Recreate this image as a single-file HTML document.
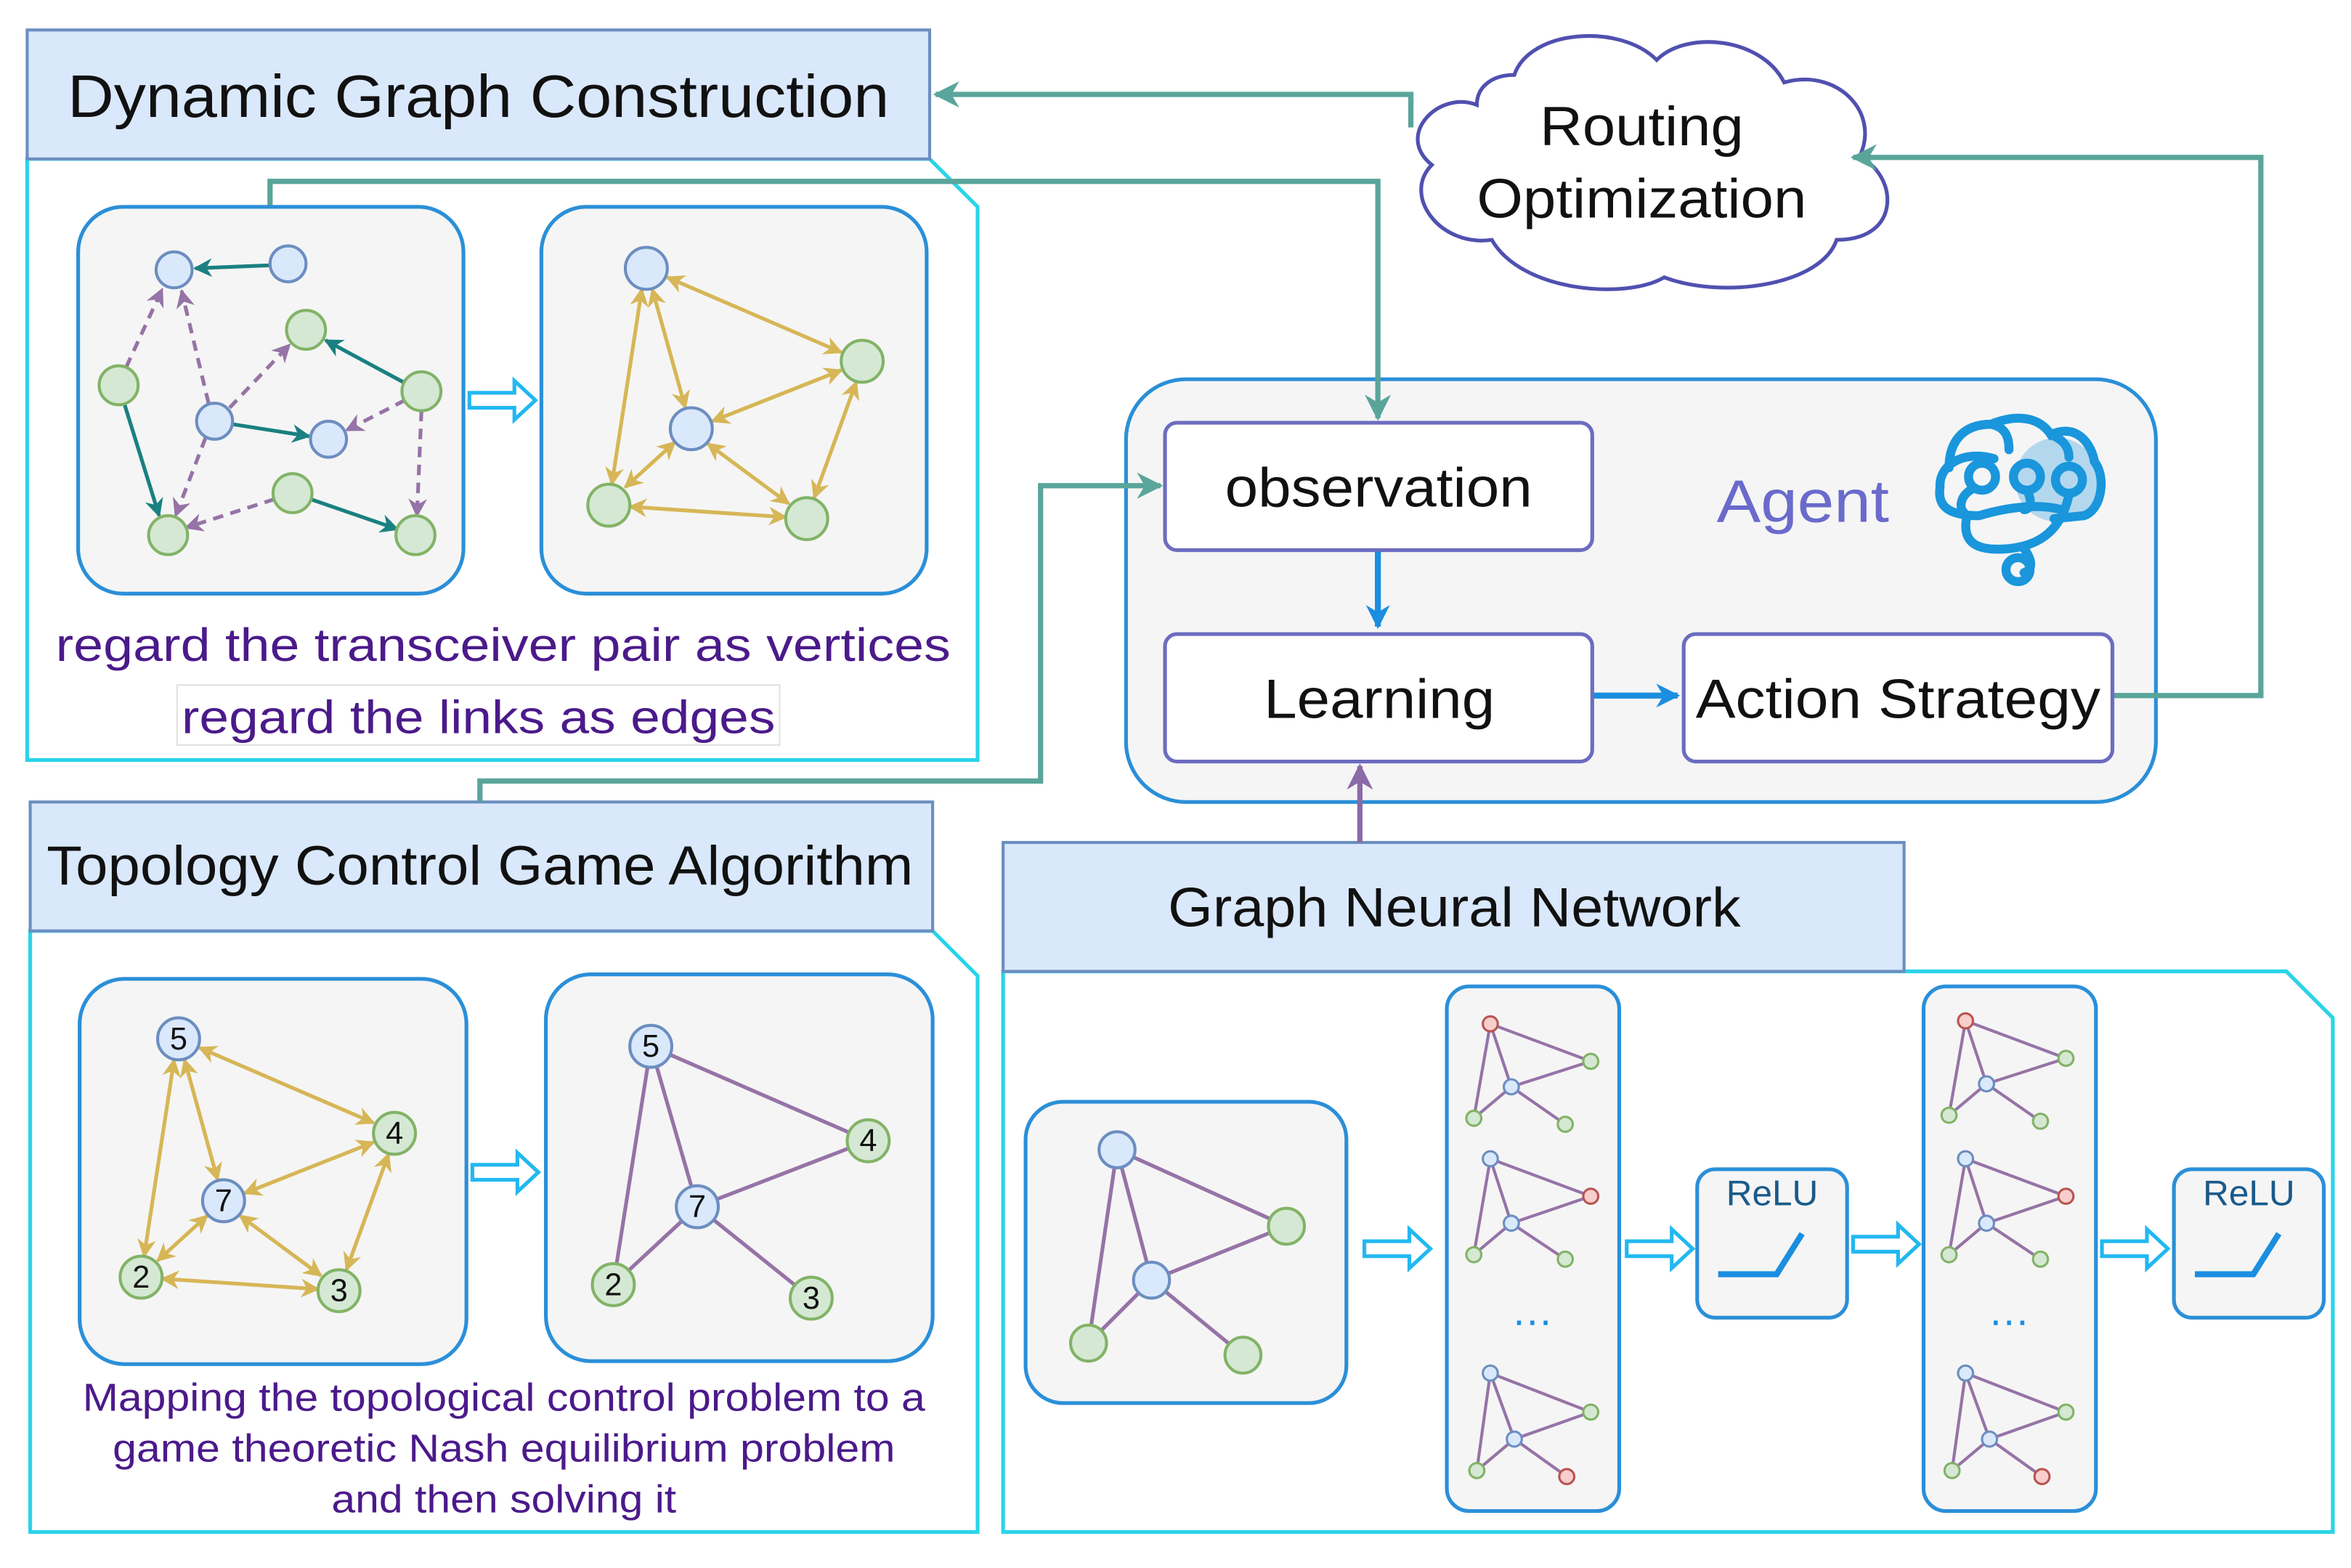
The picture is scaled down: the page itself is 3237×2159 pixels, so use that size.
<!DOCTYPE html>
<html><head><meta charset="utf-8"><style>html,body{margin:0;padding:0;background:#fff}svg{display:block}</style></head><body>
<svg xmlns="http://www.w3.org/2000/svg" width="3237" height="2159" viewBox="0 0 1568 1046" font-family="Liberation Sans, sans-serif">
<defs>
<marker id="at" viewBox="0 0 10 10" refX="9" refY="5" markerWidth="5" markerHeight="5" orient="auto-start-reverse"><path d="M0,0L10,5L0,10L3,5z" fill="#5aa59a"/></marker>
<marker id="ab" viewBox="0 0 10 10" refX="9" refY="5" markerWidth="4" markerHeight="4" orient="auto-start-reverse"><path d="M0,0L10,5L0,10L3,5z" fill="#1a8ee0"/></marker>
<marker id="ap" viewBox="0 0 10 10" refX="9" refY="5" markerWidth="5" markerHeight="5" orient="auto-start-reverse"><path d="M0,0L10,5L0,10L3,5z" fill="#8a6aa8"/></marker>
<marker id="ag" viewBox="0 0 10 10" refX="9" refY="5" markerWidth="5" markerHeight="5" orient="auto-start-reverse"><path d="M0,0L10,5L0,10L3,5z" fill="#d6b656"/></marker>
<marker id="ae" viewBox="0 0 10 10" refX="9" refY="5" markerWidth="5" markerHeight="5" orient="auto-start-reverse"><path d="M0,0L10,5L0,10L3,5z" fill="#1a8080"/></marker>
<marker id="ad" viewBox="0 0 10 10" refX="9" refY="5" markerWidth="5" markerHeight="5" orient="auto-start-reverse"><path d="M0,0L10,5L0,10L3,5z" fill="#9673a6"/></marker>
<g id="ho"><path d="M0,-5H30V-13L44,0L30,13V5H0Z" fill="#fff" stroke="#22b8f0" stroke-width="2.5"/></g>
</defs>

<path d="M18,106H620L652,138V507H18Z" fill="none" stroke="#2ad4e8" stroke-width="2.5"/>
<path d="M20,621H622L652,651V1022H20Z" fill="none" stroke="#2ad4e8" stroke-width="2.5"/>
<path d="M669,648H1525L1556,679V1022H669Z" fill="none" stroke="#2ad4e8" stroke-width="2.5"/>

<rect x="18" y="20" width="602" height="86" fill="#dae8fc" stroke="#6c8ebf" stroke-width="2"/>
<text x="45" y="78" font-size="40" textLength="548" lengthAdjust="spacingAndGlyphs" fill="#111">Dynamic Graph Construction</text>
<rect x="20" y="535" width="602" height="86" fill="#dae8fc" stroke="#6c8ebf" stroke-width="2"/>
<text x="31" y="590" font-size="37" textLength="578" lengthAdjust="spacingAndGlyphs" fill="#111">Topology Control Game Algorithm</text>
<rect x="669" y="562" width="601" height="86" fill="#dae8fc" stroke="#6c8ebf" stroke-width="2"/>
<text x="779" y="618" font-size="37" textLength="382" lengthAdjust="spacingAndGlyphs" fill="#111">Graph Neural Network</text>

<!-- cloud -->
<path d="M985,70 C960,60 930,90 955,110 C935,130 960,165 995,160 C1015,195 1085,200 1110,185 C1150,200 1215,190 1225,160 C1270,160 1265,115 1240,105 C1255,75 1225,45 1190,55 C1175,25 1125,20 1105,40 C1080,15 1020,20 1010,50 C995,50 985,58 985,70Z" fill="#fff" stroke="#5050b0" stroke-width="2.5"/>
<text x="1027" y="97" font-size="37" textLength="136" lengthAdjust="spacingAndGlyphs" fill="#111">Routing</text>
<text x="985" y="145" font-size="37" textLength="220" lengthAdjust="spacingAndGlyphs" fill="#111">Optimization</text>

<!-- agent -->
<rect x="751" y="253" width="687" height="282" rx="40" fill="#f5f5f5" stroke="#2b8fd8" stroke-width="2.5"/>

<!-- connectors -->
<g fill="none" stroke="#5aa59a" stroke-width="3.5">
<path d="M941,85V63H624" marker-end="url(#at)"/>
<path d="M1409,464H1508V105H1236" marker-end="url(#at)"/>
<path d="M180,138V121H919V279" marker-end="url(#at)"/>
<path d="M320,535V521H694V324H774" marker-end="url(#at)"/>
</g>

<rect x="777" y="282" width="285" height="85" rx="8" fill="#fff" stroke="#6c6cc0" stroke-width="2.5"/>
<text x="817" y="338" font-size="37" textLength="205" lengthAdjust="spacingAndGlyphs" fill="#111">observation</text>
<rect x="777" y="423" width="285" height="85" rx="8" fill="#fff" stroke="#6c6cc0" stroke-width="2.5"/>
<text x="843" y="479" font-size="37" textLength="154" lengthAdjust="spacingAndGlyphs" fill="#111">Learning</text>
<rect x="1123" y="423" width="286" height="85" rx="8" fill="#fff" stroke="#6c6cc0" stroke-width="2.5"/>
<text x="1131" y="479" font-size="37" textLength="270" lengthAdjust="spacingAndGlyphs" fill="#111">Action Strategy</text>
<text x="1145" y="348" font-size="40" textLength="115" lengthAdjust="spacingAndGlyphs" fill="#6a6acc">Agent</text>
<path d="M919,368V418" stroke="#1a8ee0" stroke-width="4" marker-end="url(#ab)"/>
<path d="M1063,464H1119" stroke="#1a8ee0" stroke-width="4" marker-end="url(#ab)"/>
<path d="M907,562V511" stroke="#8a6aa8" stroke-width="3.5" marker-end="url(#ap)"/>

<!-- brain -->
<g fill="none" stroke="#1a96dc" stroke-width="6" stroke-linecap="round">
<circle cx="1372" cy="320" r="28" fill="#b3d8ee" stroke="none"/>
<path d="M1330,306 C1310,300 1293,310 1294,325 C1292,338 1300,344 1320,344 C1340,338 1360,336 1375,340 M1300,312 C1300,296 1308,283 1328,283 C1345,276 1360,278 1368,290 C1385,282 1395,296 1397,308 C1405,318 1402,340 1390,344 L1370,346"/>
<path d="M1328,283 C1338,285 1340,292 1340,300 M1368,290 C1378,294 1380,300 1380,305"/>
<circle cx="1322" cy="318" r="9"/><circle cx="1352" cy="318" r="9"/><circle cx="1380" cy="320" r="9"/>
<path d="M1316,326 C1308,330 1306,338 1310,342 M1352,327 C1356,335 1354,340 1350,340"/>
<path d="M1312,344 C1308,362 1318,368 1340,366 C1360,364 1375,354 1380,330"/>
<path d="M1350,366 C1356,374 1356,380 1350,382"/><circle cx="1346" cy="380" r="8"/>
</g>

<g fill="#f5f5f5" stroke="#2b8fd8" stroke-width="2.5">
<rect x="52" y="138" width="257" height="258" rx="30"/>
<rect x="361" y="138" width="257" height="258" rx="30"/>
<rect x="53" y="653" width="258" height="257" rx="30"/>
<rect x="364" y="650" width="258" height="258" rx="30"/>
<rect x="684" y="735" width="214" height="201" rx="25"/>
<rect x="965" y="658" width="115" height="350" rx="15"/>
<rect x="1283" y="658" width="115" height="350" rx="15"/>
<rect x="1132" y="780" width="100" height="99" rx="12"/>
<rect x="1450" y="780" width="100" height="99" rx="12"/>
</g>
<text x="1182" y="804" font-size="24" text-anchor="middle" fill="#1a5a8a">ReLU</text>
<text x="1500" y="804" font-size="24" text-anchor="middle" fill="#1a5a8a">ReLU</text>
<path d="M1146,850H1185L1202,823" fill="none" stroke="#1a8ee0" stroke-width="4"/>
<path d="M1464,850H1503L1520,823" fill="none" stroke="#1a8ee0" stroke-width="4"/>

<use href="#ho" x="313" y="267"/><use href="#ho" x="315" y="782"/>
<use href="#ho" x="910" y="833"/><use href="#ho" x="1085" y="833"/>
<use href="#ho" x="1236" y="830"/><use href="#ho" x="1402" y="833"/>

<g stroke-width="2.5" fill="none">
<g stroke="#1a8080">
<path d="M180,177L130,179" marker-end="url(#ae)"/>
<path d="M269,255L217,227" marker-end="url(#ae)"/>
<path d="M155,283L206,291" marker-end="url(#ae)"/>
<path d="M83,270L106,344" marker-end="url(#ae)"/>
<path d="M207,333L265,353" marker-end="url(#ae)"/>
</g>
<g stroke="#9673a6" stroke-dasharray="7,5">
<path d="M84,245L108,193" marker-end="url(#ad)"/>
<path d="M139,269L121,194" marker-end="url(#ad)"/>
<path d="M153,272L193,230" marker-end="url(#ad)"/>
<path d="M270,267L231,287" marker-end="url(#ad)"/>
<path d="M281,274L278,344" marker-end="url(#ad)"/>
<path d="M137,292L117,344" marker-end="url(#ad)"/>
<path d="M183,333L124,352" marker-end="url(#ad)"/>
</g>
</g>
<g stroke-width="2"><g fill="#dae8fc" stroke="#6c8ebf">
<circle cx="116" cy="180" r="12"/><circle cx="192" cy="176" r="12"/><circle cx="143" cy="281" r="12"/><circle cx="219" cy="293" r="12"/></g>
<g fill="#d5e8d4" stroke="#82b366"><circle cx="79" cy="257" r="13"/><circle cx="204" cy="220" r="13"/><circle cx="281" cy="261" r="13"/><circle cx="112" cy="357" r="13"/><circle cx="195" cy="329" r="13"/><circle cx="277" cy="357" r="13"/></g></g>

<g stroke="#d6b656" stroke-width="2.5" marker-start="url(#ag)" marker-end="url(#ag)">
<line x1="445" y1="185" x2="561" y2="235"/><line x1="428" y1="193" x2="408" y2="323"/>
<line x1="435" y1="193" x2="457" y2="272"/><line x1="475" y1="281" x2="561" y2="247"/>
<line x1="450" y1="295" x2="417" y2="325"/><line x1="472" y1="296" x2="526" y2="336"/>
<line x1="420" y1="338" x2="524" y2="345"/><line x1="571" y1="255" x2="543" y2="332"/>
</g>
<g stroke-width="2"><g fill="#dae8fc" stroke="#6c8ebf"><circle cx="431" cy="179" r="14"/><circle cx="461" cy="286" r="14"/></g>
<g fill="#d5e8d4" stroke="#82b366"><circle cx="575" cy="241" r="14"/><circle cx="406" cy="337" r="14"/><circle cx="538" cy="346" r="14"/></g></g>

<g stroke="#d6b656" stroke-width="2.5" marker-start="url(#ag)" marker-end="url(#ag)">
<line x1="133" y1="699" x2="249" y2="749"/><line x1="123" y1="707" x2="145" y2="787"/>
<line x1="116" y1="707" x2="96" y2="838"/><line x1="163" y1="796" x2="249" y2="762"/>
<line x1="138" y1="811" x2="105" y2="841"/><line x1="160" y1="811" x2="214" y2="851"/>
<line x1="108" y1="853" x2="212" y2="860"/><line x1="259" y1="770" x2="231" y2="847"/>
</g>
<g stroke-width="2" font-size="21" text-anchor="middle">
<circle cx="119" cy="693" r="14" fill="#dae8fc" stroke="#6c8ebf"/><circle cx="149" cy="801" r="14" fill="#dae8fc" stroke="#6c8ebf"/>
<circle cx="263" cy="756" r="14" fill="#d5e8d4" stroke="#82b366"/><circle cx="94" cy="852" r="14" fill="#d5e8d4" stroke="#82b366"/><circle cx="226" cy="861" r="14" fill="#d5e8d4" stroke="#82b366"/>
<g stroke="none" fill="#111"><text x="119" y="700">5</text><text x="149" y="808">7</text><text x="263" y="763">4</text><text x="94" y="859">2</text><text x="226" y="868">3</text></g></g>

<g stroke="#9673a6" stroke-width="2.5">
<line x1="434" y1="698" x2="579" y2="761"/><line x1="434" y1="698" x2="465" y2="805"/><line x1="434" y1="698" x2="409" y2="857"/>
<line x1="465" y1="805" x2="579" y2="761"/><line x1="465" y1="805" x2="409" y2="857"/><line x1="465" y1="805" x2="541" y2="866"/></g>
<g stroke-width="2" font-size="21" text-anchor="middle">
<circle cx="434" cy="698" r="14" fill="#dae8fc" stroke="#6c8ebf"/><circle cx="465" cy="805" r="14" fill="#dae8fc" stroke="#6c8ebf"/>
<circle cx="579" cy="761" r="14" fill="#d5e8d4" stroke="#82b366"/><circle cx="409" cy="857" r="14" fill="#d5e8d4" stroke="#82b366"/><circle cx="541" cy="866" r="14" fill="#d5e8d4" stroke="#82b366"/>
<g stroke="none" fill="#111"><text x="434" y="705">5</text><text x="465" y="812">7</text><text x="579" y="768">4</text><text x="409" y="864">2</text><text x="541" y="873">3</text></g></g>

<g stroke="#9673a6" stroke-width="2.5">
<line x1="745" y1="767" x2="858" y2="818"/><line x1="745" y1="767" x2="726" y2="896"/><line x1="745" y1="767" x2="768" y2="854"/>
<line x1="768" y1="854" x2="858" y2="818"/><line x1="768" y1="854" x2="726" y2="896"/><line x1="768" y1="854" x2="829" y2="904"/></g>
<g stroke-width="2"><circle cx="745" cy="767" r="12" fill="#dae8fc" stroke="#6c8ebf"/><circle cx="768" cy="854" r="12" fill="#dae8fc" stroke="#6c8ebf"/>
<circle cx="858" cy="818" r="12" fill="#d5e8d4" stroke="#82b366"/><circle cx="726" cy="896" r="12" fill="#d5e8d4" stroke="#82b366"/><circle cx="829" cy="904" r="12" fill="#d5e8d4" stroke="#82b366"/></g>

<g id="sg1">
<g stroke="#9673a6" stroke-width="2"><line x1="994" y1="683" x2="1061" y2="708"/><line x1="994" y1="683" x2="983" y2="746"/><line x1="994" y1="683" x2="1008" y2="725"/><line x1="1008" y1="725" x2="1061" y2="708"/><line x1="1008" y1="725" x2="983" y2="746"/><line x1="1008" y1="725" x2="1044" y2="750"/></g>
<g stroke-width="1.5"><circle cx="994" cy="683" r="5" fill="#f8cecc" stroke="#b85450"/><circle cx="1061" cy="708" r="5" fill="#d5e8d4" stroke="#82b366"/><circle cx="1008" cy="725" r="5" fill="#dae8fc" stroke="#6c8ebf"/><circle cx="983" cy="746" r="5" fill="#d5e8d4" stroke="#82b366"/><circle cx="1044" cy="750" r="5" fill="#d5e8d4" stroke="#82b366"/></g>
</g>
<g id="sg2">
<g stroke="#9673a6" stroke-width="2"><line x1="994" y1="773" x2="1061" y2="798"/><line x1="994" y1="773" x2="983" y2="837"/><line x1="994" y1="773" x2="1008" y2="816"/><line x1="1008" y1="816" x2="1061" y2="798"/><line x1="1008" y1="816" x2="983" y2="837"/><line x1="1008" y1="816" x2="1044" y2="840"/></g>
<g stroke-width="1.5"><circle cx="994" cy="773" r="5" fill="#dae8fc" stroke="#6c8ebf"/><circle cx="1061" cy="798" r="5" fill="#f8cecc" stroke="#b85450"/><circle cx="1008" cy="816" r="5" fill="#dae8fc" stroke="#6c8ebf"/><circle cx="983" cy="837" r="5" fill="#d5e8d4" stroke="#82b366"/><circle cx="1044" cy="840" r="5" fill="#d5e8d4" stroke="#82b366"/></g>
</g>
<g id="sg3">
<g stroke="#9673a6" stroke-width="2"><line x1="994" y1="916" x2="1061" y2="942"/><line x1="994" y1="916" x2="985" y2="981"/><line x1="994" y1="916" x2="1010" y2="960"/><line x1="1010" y1="960" x2="1061" y2="942"/><line x1="1010" y1="960" x2="985" y2="981"/><line x1="1010" y1="960" x2="1045" y2="985"/></g>
<g stroke-width="1.5"><circle cx="994" cy="916" r="5" fill="#dae8fc" stroke="#6c8ebf"/><circle cx="1061" cy="942" r="5" fill="#d5e8d4" stroke="#82b366"/><circle cx="1010" cy="960" r="5" fill="#dae8fc" stroke="#6c8ebf"/><circle cx="985" cy="981" r="5" fill="#d5e8d4" stroke="#82b366"/><circle cx="1045" cy="985" r="5" fill="#f8cecc" stroke="#b85450"/></g>
</g>
<use href="#sg1" x="317" y="-2"/><use href="#sg2" x="317" y="0"/><use href="#sg3" x="317" y="0"/>
<text x="1022" y="884" font-size="28" text-anchor="middle" fill="#1a8ee0">…</text>
<text x="1340" y="884" font-size="28" text-anchor="middle" fill="#1a8ee0">…</text>

<text x="37" y="441" font-size="31" textLength="597" lengthAdjust="spacingAndGlyphs" fill="#4b1a8a">regard the transceiver pair as vertices</text>
<rect x="118" y="457" width="402" height="40" fill="#fff" stroke="#e0e0e0" stroke-width="1"/>
<text x="121" y="489" font-size="31" textLength="396" lengthAdjust="spacingAndGlyphs" fill="#4b1a8a">regard the links as edges</text>
<g font-size="26" fill="#4b1a8a" lengthAdjust="spacingAndGlyphs">
<text x="55" y="941" textLength="562" lengthAdjust="spacingAndGlyphs">Mapping the topological control problem to a</text>
<text x="75" y="975" textLength="522" lengthAdjust="spacingAndGlyphs">game theoretic Nash equilibrium problem</text>
<text x="221" y="1009" textLength="230" lengthAdjust="spacingAndGlyphs">and then solving it</text></g>
</svg>
</body></html>
